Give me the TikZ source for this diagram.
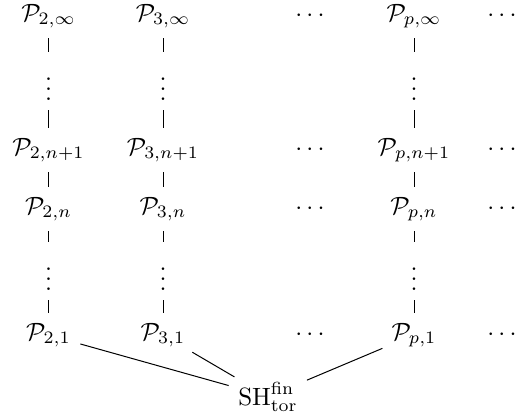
\documentclass[tikz,border=0pt]{standalone}
\usepackage{amsmath}
\usepackage{tikz}
\begin{document}
\begin{tikzpicture}[
  x=0.4pt, y=-0.4pt,
  obj/.style={anchor=base, inner sep=0pt, outer sep=0pt},
  vline/.style={shorten <=4pt, shorten >=4pt},
  dline/.style={shorten <=4pt, shorten >=4pt},
]
\useasboundingbox (0,0) rectangle (521,416);

% Column p = 2
\node[obj] (p2inf) at (48.5,21)  {$\mathcal{P}_{2,\infty}$};
\node[obj] (p2va)  at (48.5,100) {$\vdots$};
\node[obj] (p2nn)  at (48.5,155) {$\mathcal{P}_{2,n+1}$};
\node[obj] (p2n)   at (48.5,214) {$\mathcal{P}_{2,n}$};
\node[obj] (p2vb)  at (48.5,290) {$\vdots$};
\node[obj] (p2one) at (48.5,340) {$\mathcal{P}_{2,1}$};

% Column p = 3
\node[obj] (p3inf) at (163,21)  {$\mathcal{P}_{3,\infty}$};
\node[obj] (p3va)  at (163,100) {$\vdots$};
\node[obj] (p3nn)  at (163,155) {$\mathcal{P}_{3,n+1}$};
\node[obj] (p3n)   at (163,214) {$\mathcal{P}_{3,n}$};
\node[obj] (p3vb)  at (163,290) {$\vdots$};
\node[obj] (p3one) at (163,340) {$\mathcal{P}_{3,1}$};

% Column p
\node[obj] (ppinf) at (414,21)  {$\mathcal{P}_{p,\infty}$};
\node[obj] (ppva)  at (414,100) {$\vdots$};
\node[obj] (ppnn)  at (414,155) {$\mathcal{P}_{p,n+1}$};
\node[obj] (ppn)   at (414,214) {$\mathcal{P}_{p,n}$};
\node[obj] (ppvb)  at (414,290) {$\vdots$};
\node[obj] (ppone) at (414,340) {$\mathcal{P}_{p,1}$};

% Dots between and after the columns
\node[obj] (mdinf) at (312,21)  {$\cdots$};
\node[obj] (mdnn)  at (312,155) {$\cdots$};
\node[obj] (mdn)   at (312,214) {$\cdots$};
\node[obj] (mdone) at (312,340) {$\cdots$};
\node[obj] (rdinf) at (504,21)  {$\cdots$};
\node[obj] (rdnn)  at (504,155) {$\cdots$};
\node[obj] (rdn)   at (504,214) {$\cdots$};
\node[obj] (rdone) at (504,340) {$\cdots$};

% Bottom
\node[obj] (sh) at (268,405) {$\mathrm{SH}^{\mathrm{fin}}_{\mathrm{tor}}$};

% Vertical lines
\draw[vline] (p2inf) -- (p2va);
\draw[vline] (p2va)  -- (p2nn);
\draw[vline] (p2nn)  -- (p2n);
\draw[vline] (p2n)   -- (p2vb);
\draw[vline] (p2vb)  -- (p2one);
\draw[vline] (p3inf) -- (p3va);
\draw[vline] (p3va)  -- (p3nn);
\draw[vline] (p3nn)  -- (p3n);
\draw[vline] (p3n)   -- (p3vb);
\draw[vline] (p3vb)  -- (p3one);
\draw[vline] (ppinf) -- (ppva);
\draw[vline] (ppva)  -- (ppnn);
\draw[vline] (ppnn)  -- (ppn);
\draw[vline] (ppn)   -- (ppvb);
\draw[vline] (ppvb)  -- (ppone);

% Lines to the bottom
\draw[dline] (p2one) -- (sh);
\draw[dline] (p3one) -- (sh);
\draw[dline] (ppone) -- (sh);

\end{tikzpicture}
\end{document}
